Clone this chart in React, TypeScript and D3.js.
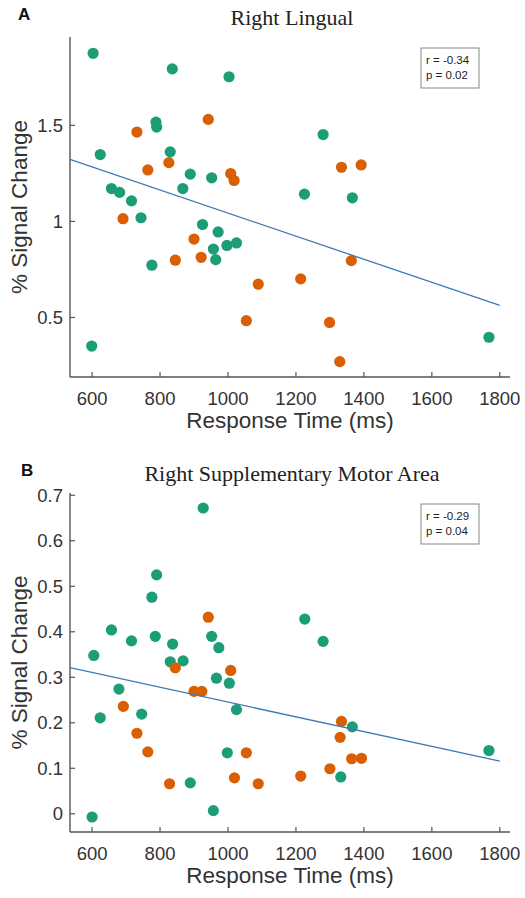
import React from 'react';
import * as d3 from 'd3';

// Panel A: Right Lingual
const rtGreenA = [603, 836, 1003, 788, 790, 1280, 624, 830, 889, 952, 867, 657, 681, 716, 1225, 1366, 744, 925, 971, 957, 964, 997, 1025, 776, 599, 1768];
const pscGreenA = [1.875, 1.794, 1.753, 1.517, 1.491, 1.452, 1.348, 1.362, 1.246, 1.227, 1.171, 1.171, 1.151, 1.107, 1.142, 1.123, 1.019, 0.984, 0.945, 0.856, 0.801, 0.875, 0.888, 0.772, 0.351, 0.397];
const rtOrangeA = [732, 942, 826, 764, 1008, 1018, 1334, 1392, 691, 900, 845, 921, 1089, 1214, 1363, 1054, 1299, 1329];
const pscOrangeA = [1.465, 1.531, 1.306, 1.268, 1.249, 1.213, 1.282, 1.294, 1.014, 0.908, 0.798, 0.813, 0.673, 0.701, 0.796, 0.483, 0.474, 0.27];
const fitRtA = [535, 1800];
const fitPscA = [1.323, 0.5625];

// Panel B: Right Supplementary Motor Area
const rtGreenB = [927, 790, 776, 1226, 657, 716, 786, 952, 837, 973, 1280, 605, 830, 868, 966, 1004, 679, 624, 746, 1025, 1366, 998, 1768, 889, 1332, 957, 600];
const pscGreenB = [0.672, 0.525, 0.476, 0.428, 0.404, 0.38, 0.39, 0.39, 0.373, 0.365, 0.379, 0.348, 0.334, 0.336, 0.298, 0.287, 0.274, 0.211, 0.219, 0.229, 0.191, 0.134, 0.139, 0.068, 0.081, 0.007, -0.007];
const rtOrangeB = [942, 845, 1008, 900, 923, 692, 732, 764, 1334, 1330, 1054, 1364, 1393, 1300, 1214, 1019, 828, 1089];
const pscOrangeB = [0.432, 0.321, 0.315, 0.269, 0.269, 0.236, 0.177, 0.136, 0.203, 0.168, 0.134, 0.121, 0.122, 0.099, 0.083, 0.079, 0.066, 0.066];
const fitRtB = [535, 1800];
const fitPscB = [0.321, 0.1156];

const xTicks = [600, 800, 1000, 1200, 1400, 1600, 1800];
const yTicksA = [0.5, 1, 1.5];
const yTicksB = [0, 0.1, 0.2, 0.3, 0.4, 0.5, 0.6, 0.7];
const statsA = ['r = -0.34', 'p = 0.02'];
const statsB = ['r = -0.29', 'p = 0.04'];

const GREEN = '#1b9e77';
const ORANGE = '#d95f02';
const LINE = '#3d7ab5';
const AXIS = '#555';
const SANS = 'Arial, "Liberation Sans", Helvetica, sans-serif';
const SERIF = '"Liberation Serif", "Times New Roman", serif';

function Panel({ letter, title, top, bottom, yDomain, yTicks, green, orange, fit, stats }) {
  const left = 70;
  const right = 510;
  const x = d3.scaleLinear().domain([535, 1830]).range([left, right]);
  const y = d3.scaleLinear().domain(yDomain).range([bottom, top]);
  const line = d3.line<number>()
    .x(d => x(d))
    .y((d, i) => y(fit[1][i]));
  const pts = (rt, psc) => rt.map((r, i) => ({ r, p: psc[i] }));

  return (
    <g>
      <text x={letter === 'A' ? 18 : 21} y={top - 17} fontFamily={SANS} fontWeight="bold" fontSize={17} fill="#111">{letter}</text>
      <text x={292} y={top - 12} textAnchor="middle" fontFamily={SERIF} fontSize={22} fill="#222">{title}</text>

      {/* axes */}
      <line x1={left} x2={left} y1={top} y2={bottom} stroke={AXIS} strokeWidth={1.4} />
      <line x1={left} x2={right} y1={bottom} y2={bottom} stroke={AXIS} strokeWidth={1.4} />
      {xTicks.map(t => (
        <g key={'x' + t}>
          <line x1={x(t)} x2={x(t)} y1={bottom} y2={bottom - 5} stroke={AXIS} strokeWidth={1.2} />
          <text x={x(t)} y={bottom + 28} textAnchor="middle" fontFamily={SANS} fontSize={18.5} fill="#333">{t}</text>
        </g>
      ))}
      {yTicks.map(t => (
        <g key={'y' + t}>
          <line x1={left} x2={left + 5} y1={y(t)} y2={y(t)} stroke={AXIS} strokeWidth={1.2} />
          <text x={63} y={y(t)} dy="0.36em" textAnchor="end" fontFamily={SANS} fontSize={18.5} fill="#333">{t}</text>
        </g>
      ))}
      <text x={(left + right) / 2} y={bottom + 51} textAnchor="middle" fontFamily={SANS} fontSize={22.5} fill="#333">Response Time (ms)</text>
      <text transform={`translate(27,${(top + bottom) / 2}) rotate(-90)`} textAnchor="middle" fontFamily={SANS} fontSize={22.5} fill="#333">% Signal Change</text>

      {/* points */}
      {pts(green[0], green[1]).map((d, i) => (
        <circle key={'g' + i} cx={x(d.r)} cy={y(d.p)} r={5.6} fill={GREEN} />
      ))}
      {pts(orange[0], orange[1]).map((d, i) => (
        <circle key={'o' + i} cx={x(d.r)} cy={y(d.p)} r={5.6} fill={ORANGE} />
      ))}

      {/* fit */}
      <path d={line(fit[0]) || ''} fill="none" stroke={LINE} strokeWidth={1.3} />

      {/* stats */}
      <rect x={421} y={top + 11} width={58} height={40} fill="#fff" stroke="#888" strokeWidth={1} />
      {stats.map((s, i) => (
        <text key={s} x={426} y={top + 27 + i * 15} fontFamily={SANS} fontSize={11.5} fill="#222">{s}</text>
      ))}
    </g>
  );
}

export default function App() {
  return (
    <svg width={525} height={898} style={{ position: 'absolute', left: 0, top: 0, background: '#fff' }}>
      <rect width={525} height={898} fill="#fff" />
      <Panel letter="A" title="Right Lingual" top={37} bottom={377} yDomain={[0.19, 1.96]} yTicks={yTicksA}
        green={[rtGreenA, pscGreenA]} orange={[rtOrangeA, pscOrangeA]} fit={[fitRtA, fitPscA]} stats={statsA} />
      <Panel letter="B" title="Right Supplementary Motor Area" top={493} bottom={832} yDomain={[-0.04, 0.705]} yTicks={yTicksB}
        green={[rtGreenB, pscGreenB]} orange={[rtOrangeB, pscOrangeB]} fit={[fitRtB, fitPscB]} stats={statsB} />
    </svg>
  );
}
